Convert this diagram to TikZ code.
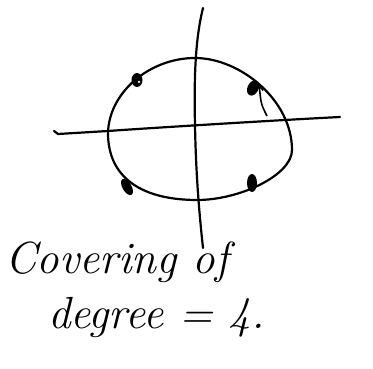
\documentclass[tikz,border=0pt]{standalone}
\usepackage{tikz}
\usetikzlibrary{arrows.meta, shapes.geometric}

\begin{document}
\begin{tikzpicture}[
    x=1pt, y=-1pt,
    pen/.style={line width=2.2pt, line cap=round, line join=round},
    puncture/.style={ellipse, fill=black, inner sep=0pt,
      minimum width=11pt, minimum height=14pt},
    arrow/.style={-{Straight Barb[length=5pt, width=7pt]}, line width=1.6pt},
    caption/.style={font=\fontsize{45}{50}\selectfont\itshape,
      anchor=base west, inner sep=0pt}
  ]
    \useasboundingbox (0,0) rectangle (373,369);

    % Axes
    \draw[pen] (203,8) .. controls (195,40) and (194,80) .. (195,125)
      .. controls (196,180) and (200,220) .. (203,248);
    \draw[pen] (340,117) .. controls (280,120) and (150,128) .. (108,131)
      -- (58,134) -- (54,131);

    % Covering curve
    \draw[pen] (108,133) .. controls (109,92) and (150,58) .. (195,58)
      .. controls (240,58) and (292,100) .. (292,150)
      .. controls (292,175) and (240,200) .. (197,200)
      .. controls (145,200) and (108,180) .. (108,133) -- cycle;

    % Points of the fibre
    \node[puncture] (ul) at (137,80) {};
    \node[circle, fill=white, inner sep=0pt, minimum size=2.5pt] at (139,82) {};
    \node[puncture, rotate=-25, minimum height=16pt] (ur) at (253,88) {};
    \node[puncture, rotate=30, minimum width=9pt, minimum height=18pt] (ll) at (127,187) {};
    \node[puncture, minimum width=10pt, minimum height=18pt] (lr) at (252,183) {};

    % Lift
    \coordinate (tail) at (267,116);
    \draw[arrow] (tail) .. controls (261,104) .. (ur.north east);

    % Caption
    \node[caption] (cov) at (5,273) {Covering of};
    \node[caption] (deg) at (48,328) {degree = 4.};
  \end{tikzpicture}
\end{document}
